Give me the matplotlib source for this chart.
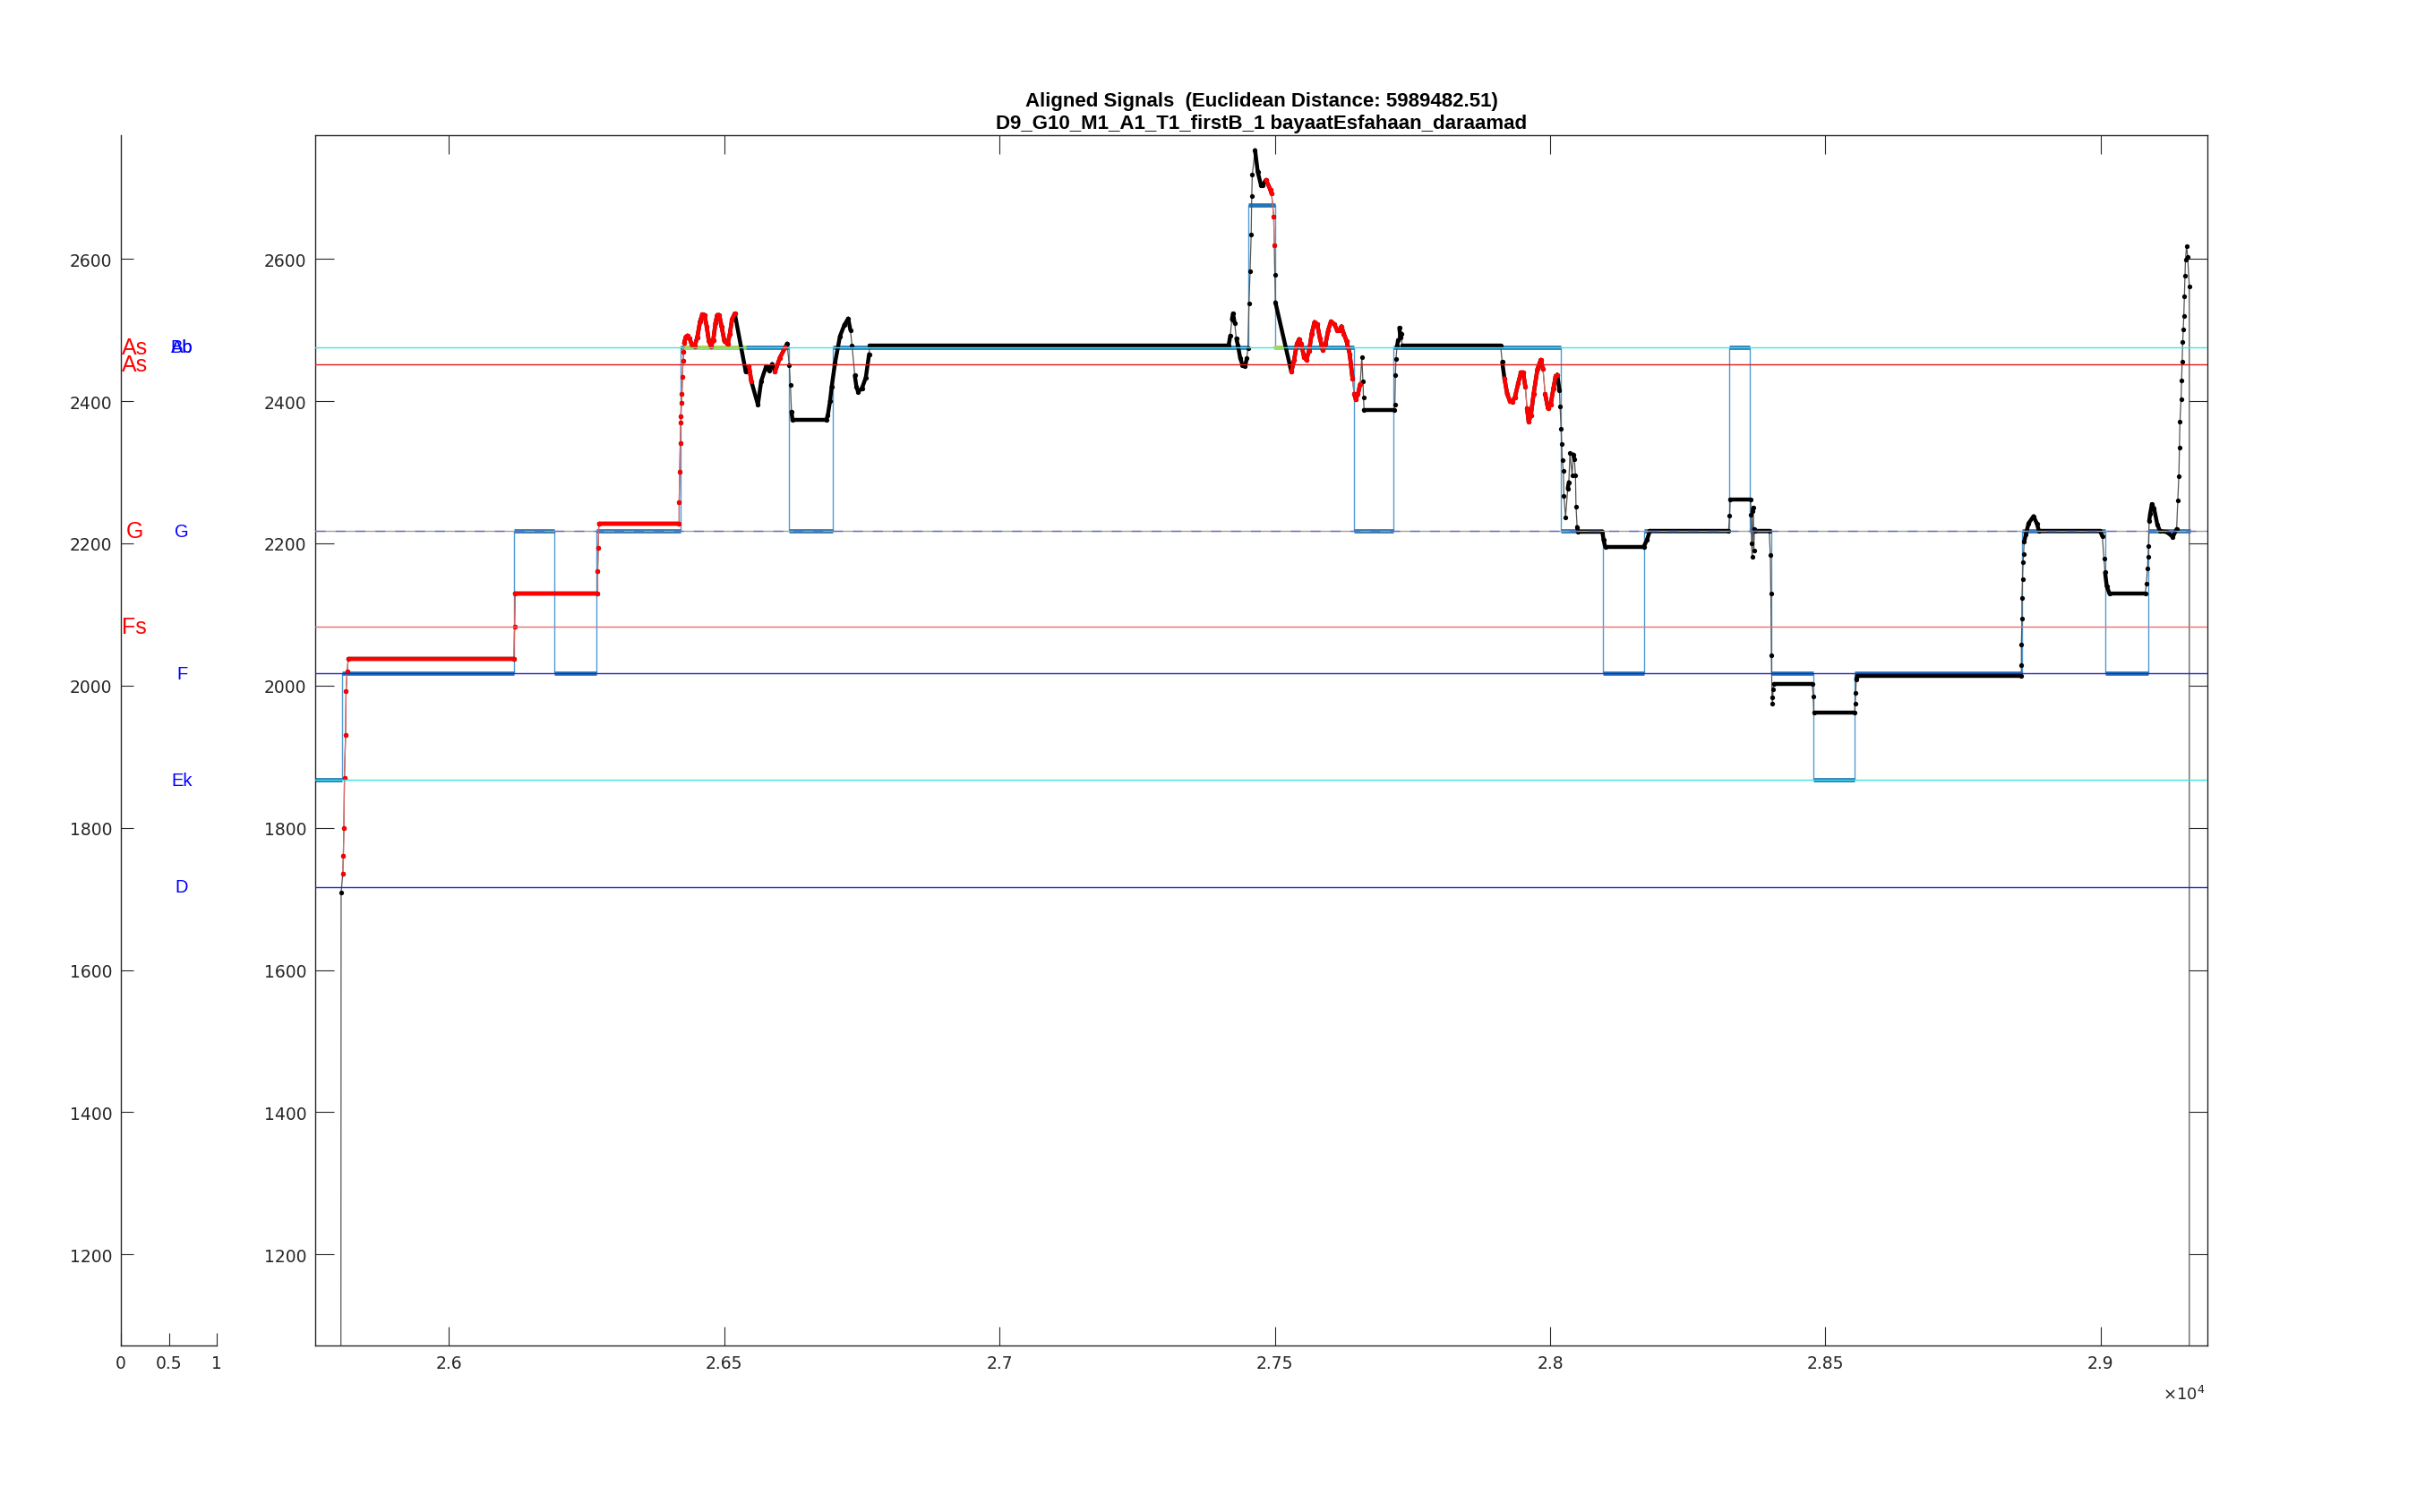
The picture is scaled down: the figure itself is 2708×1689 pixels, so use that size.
import numpy as np
import matplotlib
matplotlib.use('Agg')
import matplotlib.pyplot as plt
from matplotlib.collections import LineCollection

# score (reference) step signal: edges along x and note level between them
score_edges = [25740, 25805, 26118, 26191, 26267, 26421, 26618, 26697, 27452, 27500, 27643, 27716,
               28020, 28096, 28171, 28326, 28362, 28402, 28478, 28553, 28857, 29008, 29087, 29163]
score_levels = [1867, 2017, 2217, 2017, 2217, 2476, 2217, 2476, 2676, 2476, 2217, 2476,
                2217, 2017, 2217, 2476, 2217, 2017, 1867, 2017, 2217, 2017, 2217]

# pitch track (x, Hz), phrase by phrase
pitch_a = [(25803, 0), (25804, 1709), (25807, 1735), (25808, 1760), (25809, 1800), (25810, 1870),
           (25812, 1930), (25813, 1992), (25815, 2020), (25817, 2038), (26118, 2038), (26119, 2083),
           (26120, 2129), (26270, 2129), (26270, 2161), (26271, 2193), (26272, 2228), (26418, 2228),
           (26418, 2258), (26419, 2300), (26420, 2341), (26421, 2370), (26421, 2378), (26422, 2398),
           (26423, 2410), (26424, 2434), (26425, 2457), (26426, 2469), (26427, 2482), (26430, 2490),
           (26433, 2492), (26437, 2488), (26441, 2479), (26446, 2477), (26451, 2490), (26456, 2512),
           (26460, 2522), (26464, 2521), (26468, 2505), (26472, 2484), (26476, 2477), (26480, 2486),
           (26484, 2510), (26487, 2521), (26491, 2521), (26495, 2505), (26500, 2485), (26506, 2480),
           (26510, 2494), (26514, 2515), (26519, 2523),
           (26539, 2441), (26545, 2449), (26549, 2428), (26561, 2395), (26567, 2428), (26576, 2449),
           (26581, 2443), (26587, 2452), (26592, 2441), (26601, 2461), (26611, 2476), (26614, 2481),
           (26618, 2450), (26620, 2423), (26622, 2385), (26624, 2373), (26685, 2373), (26688, 2380),
           (26692, 2400), (26695, 2420), (26701, 2453), (26710, 2491), (26718, 2507), (26725, 2516),
           (26729, 2500), (26732, 2478), (26737, 2436), (26740, 2420), (26743, 2413), (26750, 2418),
           (26757, 2433), (26763, 2466), (26764, 2478)]
pitch_b = [(27416, 2478), (27419, 2492), (27422, 2515), (27424, 2523), (27427, 2510), (27430, 2488),
           (27433, 2478), (27437, 2461), (27441, 2451), (27446, 2449), (27449, 2460), (27451, 2474),
           (27453, 2537), (27455, 2583), (27457, 2634), (27458, 2688), (27459, 2718), (27464, 2753),
           (27469, 2722), (27475, 2703), (27478, 2704), (27484, 2711), (27492, 2697), (27494, 2692),
           (27498, 2659), (27499, 2619), (27500, 2577), (27501, 2539), (27530, 2441), (27535, 2458),
           (27540, 2480), (27544, 2487), (27548, 2480), (27553, 2462), (27557, 2458), (27562, 2470),
           (27567, 2495), (27572, 2511), (27577, 2508), (27582, 2488), (27587, 2472), (27592, 2480),
           (27597, 2500), (27602, 2512), (27608, 2508), (27613, 2500), (27617, 2500), (27621, 2505),
           (27625, 2495), (27630, 2485), (27636, 2466), (27641, 2432), (27644, 2410), (27647, 2403),
           (27651, 2410), (27655, 2424), (27658, 2462), (27660, 2428), (27661, 2405), (27662, 2388),
           (27717, 2388), (27718, 2395), (27719, 2437), (27720, 2459), (27722, 2478), (27724, 2486),
           (27726, 2503), (27728, 2490), (27730, 2495), (27731, 2478)]
pitch_c = [(27910, 2478), (27913, 2455), (27917, 2432), (27922, 2410), (27927, 2400), (27931, 2399),
           (27936, 2405), (27942, 2425), (27947, 2440), (27951, 2440), (27955, 2420), (27958, 2390),
           (27961, 2371), (27965, 2380), (27970, 2410), (27977, 2445), (27983, 2458), (27987, 2445),
           (27991, 2410), (27996, 2390), (28001, 2395), (28006, 2418), (28010, 2435), (28013, 2437),
           (28017, 2415), (28018, 2393), (28020, 2361),
           (28021, 2340), (28022, 2317), (28024, 2302), (28025, 2267), (28028, 2237), (28032, 2277),
           (28034, 2286), (28036, 2327), (28040, 2296), (28042, 2325), (28044, 2318), (28046, 2296),
           (28047, 2252), (28049, 2223), (28051, 2216), (28095, 2216), (28097, 2205), (28100, 2195),
           (28170, 2195), (28176, 2205), (28181, 2217)]
pitch_d = [(28324, 2217), (28326, 2239), (28327, 2262), (28364, 2262), (28365, 2240), (28366, 2200),
           (28367, 2181), (28368, 2245), (28369, 2250), (28370, 2190), (28371, 2220), (28373, 2217),
           (28398, 2217), (28400, 2183), (28401, 2129), (28402, 2042), (28403, 1983), (28404, 1975),
           (28405, 1995), (28406, 2002), (28476, 2002), (28478, 1985), (28479, 1962), (28553, 1962),
           (28554, 1975), (28555, 1990), (28556, 2009), (28558, 2013), (28856, 2013), (28856, 2029),
           (28856, 2058), (28857, 2094), (28857, 2123), (28858, 2149), (28859, 2173), (28860, 2185),
           (28861, 2202), (28864, 2212), (28869, 2228), (28878, 2238), (28884, 2228), (28888, 2217),
           (28999, 2217), (29003, 2210), (29006, 2178), (29008, 2159), (29011, 2140), (29016, 2129),
           (29081, 2129), (29083, 2143), (29085, 2164), (29086, 2181), (29087, 2196), (29088, 2231),
           (29090, 2242), (29093, 2255), (29097, 2249), (29103, 2226), (29108, 2217), (29120, 2216),
           (29131, 2209), (29138, 2220), (29140, 2260), (29142, 2294), (29143, 2335), (29144, 2371),
           (29146, 2402), (29147, 2429), (29148, 2455), (29149, 2483), (29150, 2501), (29151, 2520),
           (29152, 2547), (29153, 2576), (29154, 2599), (29156, 2618), (29158, 2603), (29161, 2561),
           (29161, 0)]

# stretches of the track shown in red
red_spans = [(25806, 26520), (26543, 26550), (26590, 26612), (27480, 27499.5), (27530, 27656), (27915, 28014)]
# yellow-green marks on the Bb line
green_spans = [(26424, 26539), (27497, 27520)]
green_level = [2476, 2476]

# horizontal note lines
ref_levels = [2476, 1867, 2452, 2083, 2017, 1717]
ref_colors = ['#3fe3e3', '#3fe3e3', '#e01818', '#e87070', '#2323cc', '#2323cc']
g_level = 2217

# note names in the left strip
red_names = ['As', 'As', 'G', 'Fs']
red_pos = [2476, 2452, 2217, 2083]
blue_names = ['Bb', 'Ab', 'G', 'F', 'Ek', 'D']
blue_pos = [2476, 2476, 2217, 2017, 1867, 1717]

xticks = [26000, 26500, 27000, 27500, 28000, 28500, 29000]
xtick_labels = ['2.6', '2.65', '2.7', '2.75', '2.8', '2.85', '2.9']
yticks = [1200, 1400, 1600, 1800, 2000, 2200, 2400, 2600]

fig = plt.figure(figsize=(27.08, 16.90), dpi=100)
ax = fig.add_axes([0.1300, 0.1101, 0.7803, 0.8000])
axl = fig.add_axes([0.0499, 0.1101, 0.0395, 0.8000])
ax.set_xlim(25757, 29194)
ax.set_ylim(1072, 2774)


def draw_track(x, y, dot, line):
    # thin connecting line + dots; near-flat stretches look solid like densely sampled dots
    ax.plot(x, y, '-', color=line, lw=0.9, zorder=4)
    pts = ax.transData.transform(np.column_stack([x, y]))
    d = np.diff(pts, axis=0)
    flat = np.abs(d[:, 1]) <= 9 * np.abs(d[:, 0])
    segs = [[(x[i], y[i]), (x[i + 1], y[i + 1])] for i in np.where(flat)[0]]
    ax.add_collection(LineCollection(segs, colors=dot, linewidths=3.2, capstyle='round',
                                     joinstyle='round', zorder=5))
    ax.plot(x, y, 'o', color=dot, ms=3.8, mec='none', zorder=5)


# score step
ax.stairs(score_levels, score_edges, color='#4f9bd3', lw=1.0, baseline=None, zorder=2)
ax.hlines(score_levels, score_edges[:-1], score_edges[1:], color='#2176b8', lw=3.4, zorder=2.5)
ax.hlines(green_level, [s[0] for s in green_spans], [s[1] for s in green_spans],
          color='#c2dc3e', lw=3.4, zorder=3)

track = np.array(pitch_a + pitch_b + pitch_c + pitch_d, dtype=float)
tx, ty = track[:, 0], track[:, 1]
draw_track(tx, ty, 'black', '#555555')
for lo, hi in red_spans:
    m = (tx >= lo) & (tx <= hi)
    draw_track(tx[m], ty[m], '#ff0000', '#e06a6a')

for lev, col in zip(ref_levels, ref_colors):
    ax.axhline(lev, color=col, lw=1.0, zorder=6)
ax.axhline(g_level, color='#a8a296', lw=1.0, zorder=6)
ax.axhline(g_level, color='#5a6ee0', lw=1.0, ls=(0, (8, 8)), zorder=6)

ax.set_xticks(xticks)
ax.set_xticklabels(xtick_labels)
ax.set_yticks(yticks)
ax.tick_params(direction='in', length=15, width=0.8, top=True, right=True, labelsize=13.5, pad=7,
               colors='#262626')
for s in ax.spines.values():
    s.set_linewidth(1.0)
    s.set_color('#262626')
ax.set_title('Aligned Signals  (Euclidean Distance: 5989482.51)\nD9_G10_M1_A1_T1_firstB_1 bayaatEsfahaan_daraamad',
             fontsize=16, fontweight='bold', family='Liberation Sans', linespacing=1.2, pad=6)
fig.text(2462 / 2708, 1 - 1558 / 1690, r'$\times10^{4}$', ha='right', va='center', fontsize=13, color='#262626')

# left strip with note names
axl.set_xlim(0, 1)
axl.set_ylim(1072, 2774)
axl.set_xticks([0, 0.5, 1])
axl.set_xticklabels(['0', '0.5', '1'])
axl.set_yticks(yticks)
axl.spines['top'].set_visible(False)
axl.spines['right'].set_visible(False)
for s in ['left', 'bottom']:
    axl.spines[s].set_linewidth(1.0)
    axl.spines[s].set_color('#262626')
axl.tick_params(direction='in', length=10, width=0.8, labelsize=13.5, pad=7, colors='#262626')
for name, pos in zip(red_names, red_pos):
    axl.text(0.14, pos, name, color='#ff0000', fontsize=18, family='Liberation Sans',
             ha='center', va='center', clip_on=False)
for name, pos in zip(blue_names, blue_pos):
    axl.text(0.635, pos, name, color='#0000ff', fontsize=14.5, family='Liberation Sans',
             ha='center', va='center', clip_on=False)

fig.savefig('out.png', dpi=100)
